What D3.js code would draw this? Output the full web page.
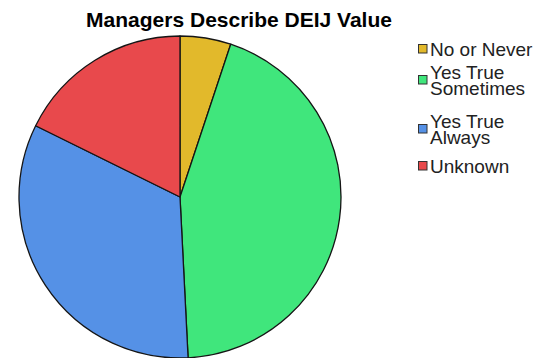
<!DOCTYPE html>
<html>
<head>
<meta charset="utf-8">
<script src="https://cdn.jsdelivr.net/npm/d3@7"></script>
<style>
  html, body { margin: 0; padding: 0; background: #ffffff; }
  svg { display: block; }
</style>
</head>
<body>
<svg id="chart" width="537" height="358"></svg>
<script>
// Responses and their share of managers
const categories = ["No or Never", "Yes True Sometimes", "Yes True Always", "Unknown"];
const legendLines = [["No or Never"], ["Yes True", "Sometimes"], ["Yes True", "Always"], ["Unknown"]];
const values = [5.1, 44.1, 33.1, 17.7];
const colors = ["#E2B92B", "#40E67C", "#5591E6", "#E8494C"];
const title = "Managers Describe DEIJ Value";

const svg = d3.select("#chart");
const cx = 180, cy = 197, radius = 161;

// Title
svg.append("text")
  .attr("x", 239).attr("y", 27)
  .attr("text-anchor", "middle")
  .attr("font-family", "Liberation Sans, Arial, sans-serif")
  .attr("font-weight", "bold")
  .attr("font-size", 21)
  .attr("fill", "#000")
  .text(title);

// Pie, starting at 12 o'clock and running clockwise
const pie = d3.pie().sort(null).value(d => d);
const arc = d3.arc().innerRadius(0).outerRadius(radius);

svg.append("g")
  .attr("transform", `translate(${cx},${cy})`)
  .selectAll("path")
  .data(pie(values))
  .join("path")
  .attr("d", arc)
  .attr("fill", (d, i) => colors[i])
  .attr("stroke", "#151515")
  .attr("stroke-width", 1.3)
  .attr("stroke-linejoin", "round");

// Legend: one text element per entry, wrapped onto tspans
const legend = svg.append("g")
  .attr("font-family", "Liberation Sans, Arial, sans-serif")
  .attr("font-size", 19)
  .attr("fill", "#222");

const lineH = 15.5;
const rowY = [49, 80, 129, 166];
legendLines.forEach((lines, i) => {
  const yc = rowY[i];
  legend.append("rect")
    .attr("x", 418.5).attr("y", yc - 4.5)
    .attr("width", 8.5).attr("height", 8.5)
    .attr("fill", colors[i])
    .attr("stroke", "#333")
    .attr("stroke-width", 1);
  const top = yc - (lines.length - 1) * lineH / 2;
  const txt = legend.append("text")
    .attr("x", 430)
    .attr("y", top)
    .attr("dy", "0.36em");
  lines.forEach((t, j) => {
    txt.append("tspan")
      .attr("x", 430)
      .attr("dy", j === 0 ? "0.36em" : lineH)
      .text(t);
  });
  txt.attr("dy", null);
});
</script>
</body>
</html>
